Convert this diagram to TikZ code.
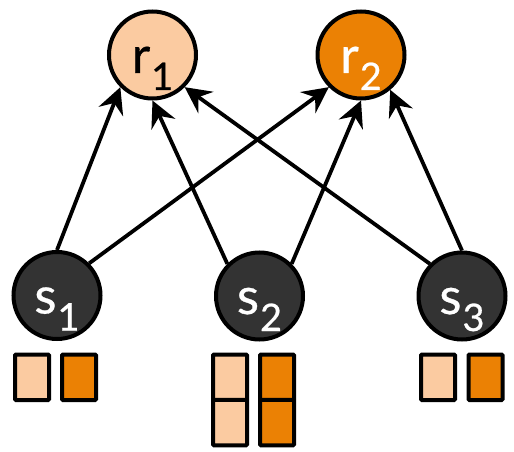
\documentclass[tikz,border=0pt]{standalone}
\usepackage{fontspec}
\setmainfont{Lato}
\newfontfamily\labfont{Lato}[BoldFont={Lato},BoldFeatures={FakeBold=0.6}]
\usetikzlibrary{arrows.meta}
\definecolor{peach}{HTML}{FBCBA1}
\definecolor{amber}{HTML}{EB8104}
\definecolor{coal}{HTML}{333333}
% node label: a letter with a large, low subscript
\newcommand{\nlab}[2]{{\labfont\bfseries\fontsize{51}{51}\selectfont #1\kern1pt\raisebox{-17pt}{\fontsize{38}{38}\selectfont #2}}}
\tikzset{
  agent/.style={circle, draw=black, line width=4pt, minimum size=87pt, inner sep=0pt,
                text height=36pt, text depth=0pt},
  resource/.style={agent, text=black},
  server/.style={agent, fill=coal, text=white},
  slot/.style={draw=black, line width=4pt, rounded corners=1pt, minimum width=34pt,
               minimum height=45.5pt, inner sep=0pt},
  link/.style={line width=3.8pt, -{Stealth[length=26pt,width=26pt,inset=9pt]}}
}
\begin{document}
\begin{tikzpicture}[x=1pt,y=-1pt]
\useasboundingbox (0,0) rectangle (514,452);

% requesters on top, providers below
\node[resource, fill=peach] (r1) at (152.5,55) {\nlab{r}{1}};
\node[resource, fill=amber, text=white] (r2) at (361,55) {\nlab{r}{2}};
\node[server] (s1) at (57,295.5) {\nlab{s}{1}};
\node[server] (s2) at (259.5,296) {\nlab{s}{2}};
\node[server] (s3) at (462,296) {\nlab{s}{3}};

% capacity slots under each provider
\node[slot, fill=peach] (s1a) at (32,377.25) {};
\node[slot, fill=amber] (s1b) at (79,377.25) {};
\node[slot, fill=peach] (s2a) at (230,377.25) {};
\node[slot, fill=peach] (s2c) at (230,422.5) {};
\node[slot, fill=amber] (s2b) at (277,377.25) {};
\node[slot, fill=amber] (s2d) at (277,422.5) {};
\node[slot, fill=peach] (s3a) at (438,377.25) {};
\node[slot, fill=amber] (s3b) at (485.5,377.25) {};

% links from providers to requesters
\draw[link] (s1.north) -- (r1.south west);
\draw[link] (s1.north east) -- (r2.south west);
\draw[link] (s2.north west) -- (r1.south);
\draw[link] (s2.north east) -- (r2.south);
\draw[link] (s3.north west) -- (r1.south east);
\draw[link] (s3.north) -- (r2.-50);
\end{tikzpicture}
\end{document}
